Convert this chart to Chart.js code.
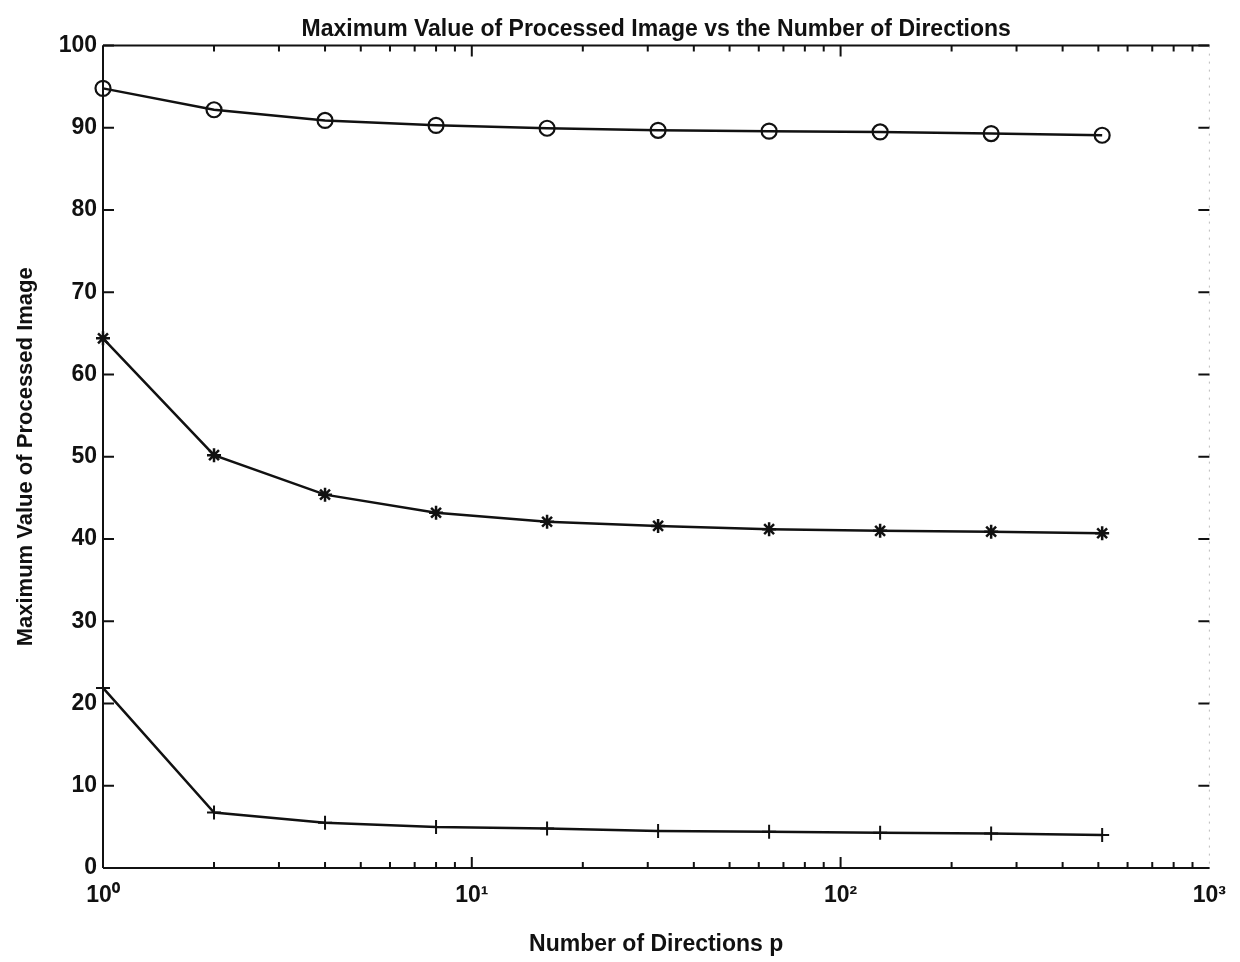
<!DOCTYPE html>
<html>
<head>
<meta charset="utf-8">
<script src="https://cdn.jsdelivr.net/npm/chart.js@4"></script>
<style>
  body { margin: 0; background: #fff; }
  canvas { display: block; }
</style>
</head>
<body>
<canvas id="plot-data" width="1240" height="962"></canvas>
<script>
// number of directions p
const directions = [1, 2, 4, 8, 16, 32, 64, 128, 256, 512];
// maximum value of processed image, one array per curve
const circleValues = [94.8, 92.2, 90.9, 90.3, 89.95, 89.7, 89.6, 89.5, 89.3, 89.1];
const starValues = [64.4, 50.2, 45.4, 43.2, 42.1, 41.6, 41.2, 41.0, 40.9, 40.7];
const plusValues = [21.9, 6.75, 5.5, 5.0, 4.8, 4.5, 4.4, 4.3, 4.2, 4.0];

const xMajor = [1, 10, 100, 1000];
const xMajorLabels = ['10\u2070', '10\u00b9', '10\u00b2', '10\u00b3'];
const yTicks = [0, 10, 20, 30, 40, 50, 60, 70, 80, 90, 100];

const FONT = "'Liberation Sans', Arial, sans-serif";

function pts(vals) {
    return directions.map(function (d, i) { return { x: d, y: vals[i] }; });
}

// draws the box and inward ticks (matlab style)
const frameTicks = {
    id: 'frameTicks',
    afterDatasetsDraw(chart) {
        const ctx = chart.ctx;
        const a = chart.chartArea;
        const xs = chart.scales.x;
        const ys = chart.scales.y;
        ctx.save();
        ctx.strokeStyle = '#111';
        ctx.lineWidth = 2;
        ctx.beginPath();
        ctx.moveTo(a.left, a.top); ctx.lineTo(a.right, a.top);
        ctx.moveTo(a.left, a.bottom); ctx.lineTo(a.right, a.bottom);
        ctx.moveTo(a.left, a.top); ctx.lineTo(a.left, a.bottom);
        ctx.stroke();
        // right edge is faint in the original
        ctx.strokeStyle = '#bbb';
        ctx.lineWidth = 1;
        ctx.setLineDash([2, 6]);
        ctx.beginPath();
        ctx.moveTo(a.right, a.top); ctx.lineTo(a.right, a.bottom);
        ctx.stroke();
        ctx.setLineDash([]);

        ctx.strokeStyle = '#111';
        ctx.lineWidth = 2;
        ctx.beginPath();
        for (let dec = 1; dec < 1000; dec *= 10) {
            for (let m = 1; m < 10; m++) {
                const px = xs.getPixelForValue(dec * m);
                const len = m === 1 ? 11 : 6;
                ctx.moveTo(px, a.bottom); ctx.lineTo(px, a.bottom - len);
                ctx.moveTo(px, a.top); ctx.lineTo(px, a.top + len);
            }
        }
        yTicks.forEach(function (v) {
            const py = ys.getPixelForValue(v);
            ctx.moveTo(a.left, py); ctx.lineTo(a.left + 11, py);
            ctx.moveTo(a.right, py); ctx.lineTo(a.right - 11, py);
        });
        ctx.stroke();
        ctx.restore();
    }
};

const ctx = document.getElementById('plot-data').getContext('2d');
const chart = new Chart(ctx, {
    type: 'line',
    data: {
        datasets: [{
            data: pts(circleValues),
            borderColor: '#111',
            borderWidth: 2.5,
            clip: false,
            pointStyle: 'circle',
            pointRadius: 7.5,
            pointBorderWidth: 2.2,
            pointBorderColor: '#111',
            pointBackgroundColor: 'rgba(0,0,0,0)'
        }, {
            data: pts(starValues),
            borderColor: '#111',
            borderWidth: 2.5,
            clip: false,
            pointStyle: 'star',
            pointRadius: 7,
            pointBorderWidth: 2.5,
            pointBorderColor: '#111'
        }, {
            data: pts(plusValues),
            borderColor: '#111',
            borderWidth: 2.5,
            clip: false,
            pointStyle: 'cross',
            pointRadius: 7,
            pointBorderWidth: 2,
            pointBorderColor: '#111'
        }]
    },
    options: {
        responsive: false,
        animation: false,
        devicePixelRatio: 1,
        layout: { padding: { top: 0, right: 27, left: 0, bottom: 0 } },
        plugins: {
            legend: { display: false },
            tooltip: { enabled: false },
            title: {
                display: true,
                fullSize: false,
                text: 'Maximum Value of Processed Image vs the Number of Directions',
                color: '#111',
                font: { family: FONT, size: 23, weight: 'bold' },
                padding: { top: 16, bottom: 2 }
            }
        },
        elements: { line: { tension: 0 } },
        scales: {
            x: {
                type: 'logarithmic',
                min: 1,
                max: 1000,
                afterBuildTicks: function (s) {
                    s.ticks = xMajor.map(function (v) { return { value: v, major: true }; });
                },
                afterFit: function (s) { s.height = 94; },
                grid: { display: false, drawTicks: false },
                border: { display: false },
                ticks: {
                    autoSkip: false,
                    maxRotation: 0,
                    padding: 14,
                    color: '#111',
                    font: { family: FONT, size: 23, weight: 'bold' },
                    callback: function (v) {
                        const i = xMajor.indexOf(v);
                        return i >= 0 ? xMajorLabels[i] : '';
                    }
                },
                title: {
                    display: true,
                    text: 'Number of Directions p',
                    color: '#111',
                    font: { family: FONT, size: 23, weight: 'bold' },
                    padding: { top: 0, bottom: 4 }
                }
            },
            y: {
                min: 0,
                max: 100,
                afterBuildTicks: function (s) {
                    s.ticks = yTicks.map(function (v) { return { value: v }; });
                },
                afterFit: function (s) { s.width = 103; },
                grid: { display: false, drawTicks: false },
                border: { display: false },
                ticks: {
                    padding: 6,
                    color: '#111',
                    font: { family: FONT, size: 23, weight: 'bold' }
                },
                title: {
                    display: true,
                    text: 'Maximum Value of Processed Image',
                    color: '#111',
                    font: { family: FONT, size: 22, weight: 'bold' },
                    padding: { top: 13, bottom: 0 }
                }
            }
        }
    },
    plugins: [frameTicks]
});
</script>
</body>
</html>
